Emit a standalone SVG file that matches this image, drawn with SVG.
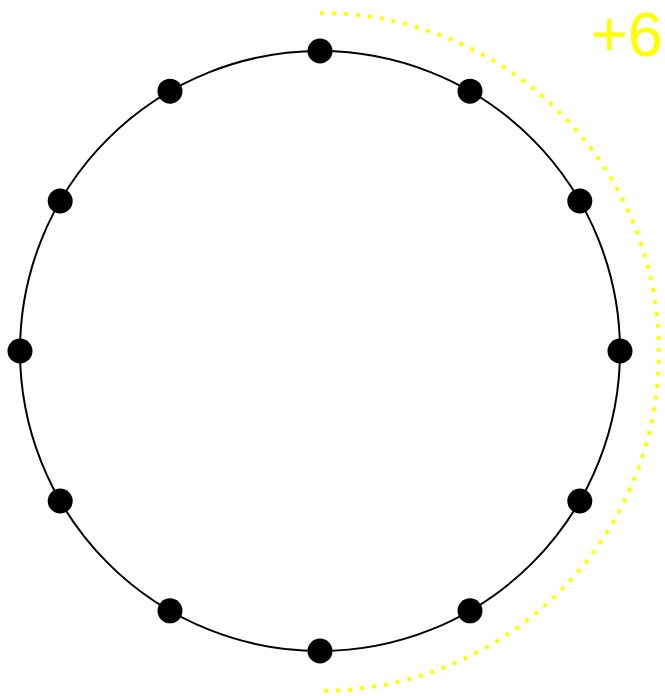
<svg xmlns="http://www.w3.org/2000/svg" width="665" height="696" viewBox="0 0 665 696">
<style>
.ring{fill:none;stroke:#000;stroke-width:2}
.dot{fill:#000}
.arc{fill:none;stroke:#ffff00;stroke-width:4;stroke-dasharray:4 8}
.lbl{fill:#ffff00;font-family:"Liberation Sans",Arial,sans-serif;font-size:63px}
</style>
<rect width="665" height="696" fill="#fff"/>
<g id="connectors">
<circle class="ring" cx="320" cy="351" r="300"/>
<path class="arc" d="M320,13 A339,339 0 0 1 320,691"/>
</g>
<g id="n0"><circle class="dot" cx="320" cy="51" r="12.5"/></g>
<g id="n1"><circle class="dot" cx="470" cy="91.2" r="12.5"/></g>
<g id="n2"><circle class="dot" cx="579.8" cy="201" r="12.5"/></g>
<g id="n3"><circle class="dot" cx="620" cy="351" r="12.5"/></g>
<g id="n4"><circle class="dot" cx="579.8" cy="501" r="12.5"/></g>
<g id="n5"><circle class="dot" cx="470" cy="610.8" r="12.5"/></g>
<g id="n6"><circle class="dot" cx="320" cy="651" r="12.5"/></g>
<g id="n7"><circle class="dot" cx="170" cy="610.8" r="12.5"/></g>
<g id="n8"><circle class="dot" cx="60.2" cy="501" r="12.5"/></g>
<g id="n9"><circle class="dot" cx="20" cy="351" r="12.5"/></g>
<g id="n10"><circle class="dot" cx="60.2" cy="201" r="12.5"/></g>
<g id="n11"><circle class="dot" cx="170" cy="91.2" r="12.5"/></g>
<g id="label"><text class="lbl" x="591" y="56">+6</text></g>
</svg>
